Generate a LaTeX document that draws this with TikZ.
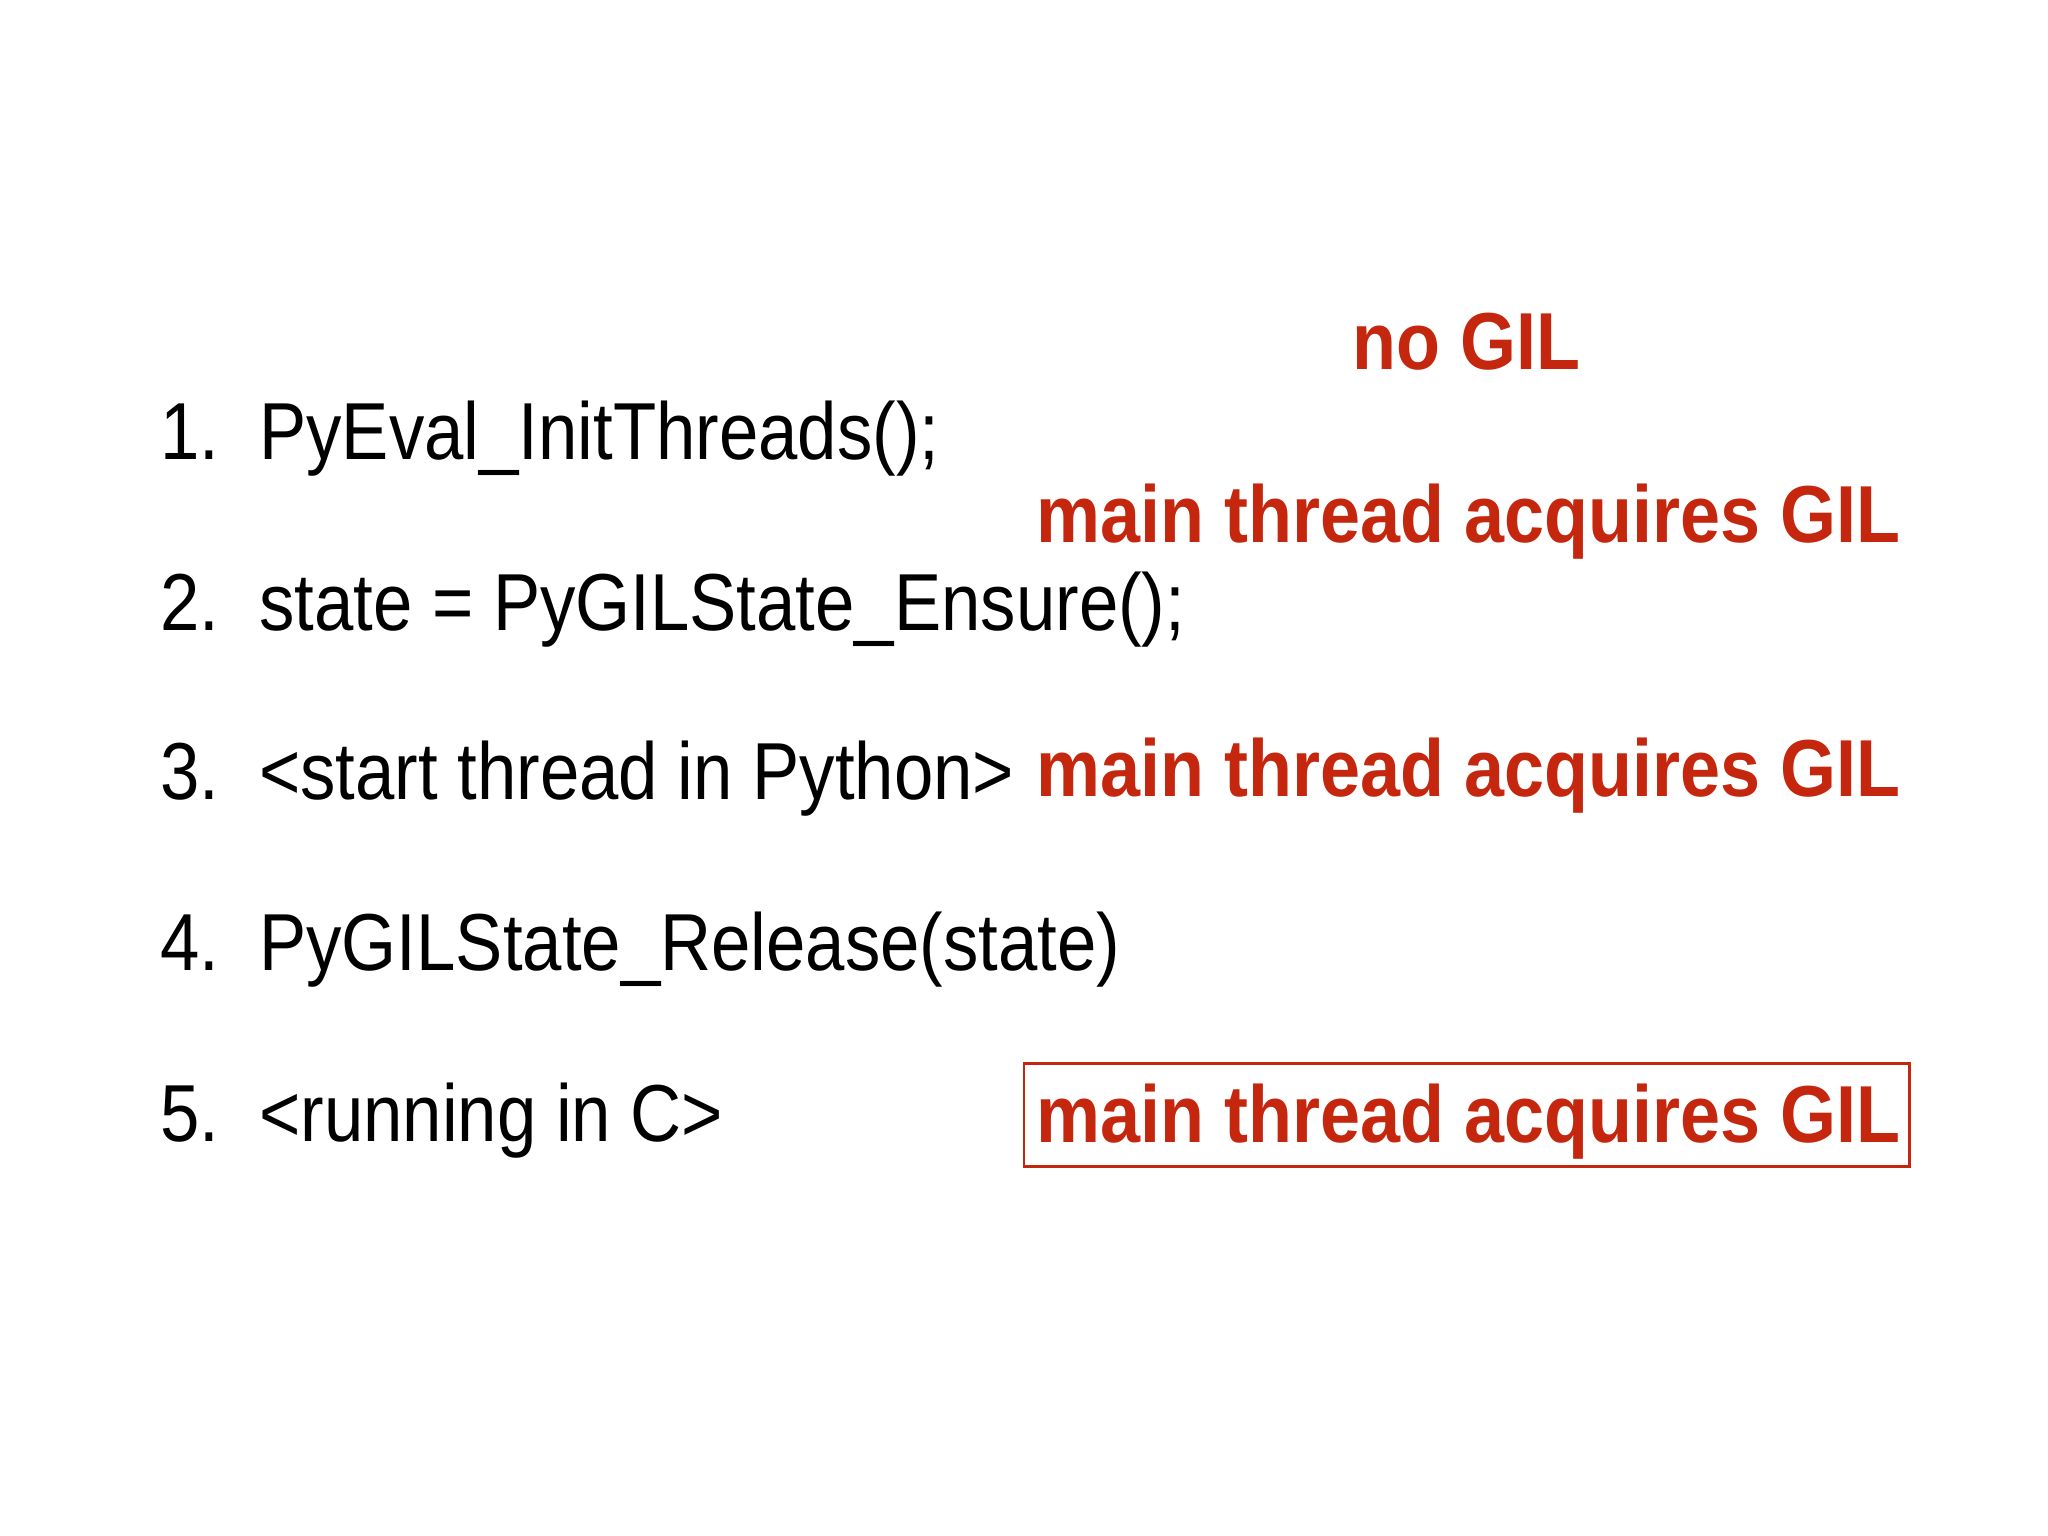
\documentclass[tikz,border=0pt]{standalone}
\usepackage{fontspec}
\setmainfont{Liberation Sans}
\definecolor{gred}{HTML}{C4260E}
\newcommand{\blk}[1]{\scalebox{0.875}[1]{#1}}
\newcommand{\rd}[1]{\scalebox{0.89}[1]{#1}}
\begin{document}
\begin{tikzpicture}[x=0.01306cm,y=-0.01306cm,
  item/.style={anchor=base west,inner sep=0pt,font=\fontsize{23}{26}\selectfont},
  red/.style={anchor=base west,inner sep=0pt,text=gred,font=\fontsize{23}{26}\selectfont\bfseries}]
\useasboundingbox (0,0) rectangle (1568,1176);
\node[item] (n1) at (122,352) {\blk{1.}};
\node[item] (t1) at (198,352) {\blk{PyEval\_InitThreads();}};
\node[item] (n2) at (122,483) {\blk{2.}};
\node[item] (t2) at (198,483) {\blk{state = PyGILState\_Ensure();}};
\node[item] (n3) at (122,612) {\blk{3.}};
\node[item] (t3) at (198,612) {\blk{<start thread in Python>}};
\node[item] (n4) at (122,743) {\blk{4.}};
\node[item] (t4) at (198,743) {\blk{PyGILState\_Release(state)}};
\node[item] (n5) at (122,874) {\blk{5.}};
\node[item] (t5) at (198,874) {\blk{<running in C>}};
\node[red,anchor=base] (r0) at (1123,283) {\rd{no GIL}};
\node[red] (r1) at (793,415) {\rd{main thread acquires GIL}};
\node[red] (r2) at (793,610) {\rd{main thread acquires GIL}};
\node[red] (r3) at (793,875) {\rd{main thread acquires GIL}};
\draw[gred,line width=0.8pt] (784,814) rectangle (1462,893);
\end{tikzpicture}
\end{document}
